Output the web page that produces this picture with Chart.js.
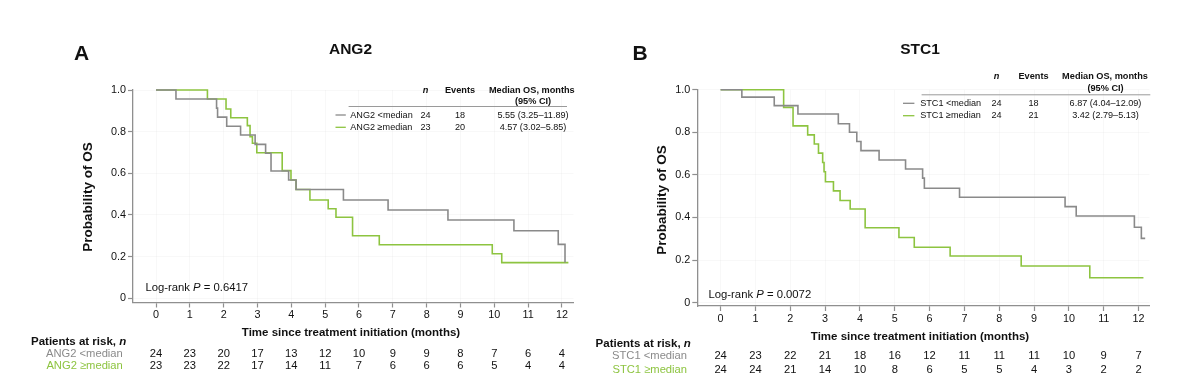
<!DOCTYPE html>
<html>
<head>
<meta charset="utf-8">
<script src="https://cdn.jsdelivr.net/npm/chart.js@4.4.1/dist/chart.umd.min.js"></script>
<style>
  html, body { margin: 0; padding: 0; background: #fff; }
  body { width: 1183px; height: 392px; position: relative; overflow: hidden; }
  canvas { position: absolute; top: 0; }
  #panelA { left: 0; }
  #panelB { left: 591px; }
</style>
</head>
<body>
<canvas id="panelA" width="591" height="392"></canvas>
<canvas id="panelB" width="592" height="392"></canvas>
<script>
// ---- data ----
const months = [0, 1, 2, 3, 4, 5, 6, 7, 8, 9, 10, 11, 12];
const survTicks = [0, 0.2, 0.4, 0.6, 0.8, 1.0];

const ang2LowTimes  = [0, 0.59, 1.79, 1.82, 2.09, 2.50, 2.93, 3.24, 3.40, 3.92, 4.14, 5.54, 6.86, 8.63, 10.58, 11.89, 12.09];
const ang2LowSurv   = [1, 0.957, 0.913, 0.870, 0.826, 0.784, 0.739, 0.696, 0.611, 0.568, 0.522, 0.472, 0.424, 0.376, 0.324, 0.259, 0.172];
const ang2HighTimes = [0, 1.52, 2.07, 2.21, 2.70, 2.78, 2.85, 2.98, 3.73, 3.99, 4.14, 4.55, 5.09, 5.32, 5.81, 6.60, 9.94, 10.22, 12.19];
const ang2HighSurv  = [1, 0.957, 0.909, 0.867, 0.829, 0.776, 0.744, 0.699, 0.613, 0.568, 0.522, 0.472, 0.430, 0.389, 0.300, 0.257, 0.214, 0.171, 0.171];

const stc1LowTimes  = [0, 0.61, 1.54, 2.22, 3.38, 3.70, 3.91, 4.03, 4.55, 5.31, 5.80, 5.85, 6.86, 9.89, 10.21, 11.88, 12.08, 12.19];
const stc1LowSurv   = [1, 0.965, 0.925, 0.886, 0.840, 0.800, 0.757, 0.714, 0.670, 0.628, 0.585, 0.537, 0.495, 0.451, 0.407, 0.354, 0.302, 0.302];
const stc1HighTimes = [0, 1.81, 2.08, 2.50, 2.69, 2.81, 2.93, 2.97, 3.01, 3.24, 3.43, 3.72, 4.15, 5.12, 5.56, 6.59, 8.63, 10.60, 12.14];
const stc1HighSurv  = [1, 0.917, 0.830, 0.788, 0.745, 0.702, 0.658, 0.615, 0.568, 0.525, 0.480, 0.440, 0.352, 0.306, 0.260, 0.219, 0.172, 0.117, 0.117];

const ang2AtRiskLow  = [24, 23, 20, 17, 13, 12, 10, 9, 9, 8, 7, 6, 4];
const ang2AtRiskHigh = [23, 23, 22, 17, 14, 11, 7, 6, 6, 6, 5, 4, 4];
const stc1AtRiskLow  = [24, 23, 22, 21, 18, 16, 12, 11, 11, 11, 10, 9, 7];
const stc1AtRiskHigh = [24, 24, 21, 14, 10, 8, 6, 5, 5, 4, 3, 2, 2];

const ang2Groups = ['ANG2 <median', 'ANG2 \u2265median'];
const stc1Groups = ['STC1 <median', 'STC1 \u2265median'];
const ang2N = ['24', '23'], ang2Events = ['18', '20'], ang2Median = ['5.55 (3.25\u201311.89)', '4.57 (3.02\u20135.85)'];
const stc1N = ['24', '24'], stc1Events = ['18', '21'], stc1Median = ['6.87 (4.04\u201312.09)', '3.42 (2.79\u20135.13)'];
const logRankP = ['0.6417', '0.0072'];

// ---- styling ----
const GRAY = '#8a8a8a';
const GREEN = '#8dc440';
const AXIS = '#8f8f8f';
const INK = '#111';
const FAMILY = '"Liberation Sans", Arial, Helvetica, sans-serif';
const Y_AXIS_W = 30;
const X_AXIS_H = 20;

Chart.defaults.font.family = FAMILY;
Chart.defaults.color = INK;

function font(size, weight = 'normal', style = 'normal') {
    return `${style} ${weight} ${size}px ${FAMILY}`;
}

function toPoints(times, surv) {
    return times.map((t, i) => ({ x: t, y: surv[i] }));
}

// draws runs of [text, weight, style] pieces one after another
function drawRuns(ctx, runs, x, y, size, align) {
    const widths = runs.map(([txt, w, s]) => { ctx.font = font(size, w, s); return ctx.measureText(txt).width; });
    const total = widths.reduce((a, b) => a + b, 0);
    let cx = align === 'right' ? x - total : align === 'center' ? x - total / 2 : x;
    ctx.textAlign = 'left';
    runs.forEach(([txt, w, s], i) => {
        ctx.font = font(size, w, s);
        ctx.fillText(txt, cx, y);
        cx += widths[i];
    });
}

const kmText = {
    id: 'kmText',
    afterDraw(chart, args, o) {
        const ctx = chart.ctx;
        const xs = chart.scales.x;
        ctx.save();
        ctx.fillStyle = INK;

        // panel letter and title
        ctx.textBaseline = 'alphabetic';
        ctx.textAlign = 'left';
        ctx.font = font(21, 'bold');
        ctx.fillText(o.letter, o.letterX, 60);
        ctx.textAlign = 'center';
        ctx.font = font(15.5, 'bold');
        ctx.fillText(o.title, o.titleX, 54);

        // legend table
        ctx.textBaseline = 'middle';
        drawRuns(ctx, [['n', 'bold', 'italic']], o.nX, o.headerY, 9.2, 'center');
        ctx.textAlign = 'center';
        ctx.font = font(9.2, 'bold');
        ctx.fillText('Events', o.evX, o.headerY);
        ctx.fillText('Median OS, months', o.medX, o.headerY);
        ctx.fillText('(95% CI)', o.ciX, o.ciY);
        ctx.strokeStyle = '#9a9a9a';
        ctx.lineWidth = 1;
        ctx.beginPath();
        ctx.moveTo(o.ruleX0, o.ruleY + 0.5);
        ctx.lineTo(o.ruleX1, o.ruleY + 0.5);
        ctx.stroke();

        o.groups.forEach((g, i) => {
            const y = o.rowY[i];
            ctx.strokeStyle = o.colors[i];
            ctx.lineWidth = 1.3;
            ctx.beginPath();
            ctx.moveTo(o.sampleX0, y);
            ctx.lineTo(o.sampleX1, y);
            ctx.stroke();
            ctx.fillStyle = INK;
            ctx.font = font(9.1);
            ctx.textAlign = 'left';
            ctx.fillText(g, o.labelX, y);
            ctx.textAlign = 'center';
            ctx.fillText(o.n[i], o.nX, y);
            ctx.fillText(o.events[i], o.evX, y);
            ctx.fillText(o.median[i], o.ciX, y);
        });

        // log-rank
        drawRuns(ctx, [['Log-rank ', 'normal'], ['P', 'normal', 'italic'], [' = ' + o.p, 'normal']],
            o.logRankX, o.logRankY, 11.3, 'left');

        // axis titles
        ctx.textAlign = 'center';
        ctx.font = font(11.5, 'bold');
        ctx.fillText('Time since treatment initiation (months)', o.xTitleX, o.xTitleY);
        ctx.save();
        ctx.translate(o.yTitleX, o.yTitleY);
        ctx.rotate(-Math.PI / 2);
        ctx.font = font(13.5, 'bold');
        ctx.fillText('Probability of OS', 0, 0);
        ctx.restore();

        // patients at risk
        drawRuns(ctx, [['Patients at risk, ', 'bold'], ['n', 'bold', 'italic']], o.parX, o.parY, 11.5, 'left');
        o.atRisk.forEach((row, i) => {
            const y = o.riskY[i];
            ctx.fillStyle = o.colors[i];
            ctx.font = font(11.2);
            ctx.textAlign = 'right';
            ctx.fillText(o.groups[i], o.rowLabelRight, y);
            ctx.fillStyle = INK;
            ctx.textAlign = 'center';
            row.forEach((v, j) => ctx.fillText(String(v), xs.getPixelForValue(months[j]), y));
        });
        ctx.restore();
    }
};

function makeChart(id, cfg) {
    const canvas = document.getElementById(id);
    const W = canvas.width, H = canvas.height;
    const line = (times, surv, color) => ({
        data: toPoints(times, surv),
        borderColor: color,
        backgroundColor: 'transparent',
        borderWidth: 1.6,
        pointRadius: 0,
        stepped: 'before',
        clip: 4
    });
    return new Chart(canvas.getContext('2d'), {
        type: 'line',
        data: {
            datasets: [
                line(cfg.lowTimes, cfg.lowSurv, GRAY),
                line(cfg.highTimes, cfg.highSurv, GREEN)
            ]
        },
        options: {
            responsive: false,
            animation: false,
            devicePixelRatio: 1,
            layout: {
                padding: {
                    left: cfg.area.left - Y_AXIS_W,
                    top: cfg.area.top,
                    right: W - cfg.area.right,
                    bottom: H - cfg.area.bottom - X_AXIS_H
                }
            },
            plugins: {
                legend: { display: false },
                tooltip: { enabled: false },
                kmText: cfg.text
            },
            scales: {
                x: {
                    type: 'linear',
                    min: cfg.xRange[0],
                    max: cfg.xRange[1],
                    afterBuildTicks: axis => { axis.ticks = months.map(v => ({ value: v })); },
                    afterFit: axis => { axis.height = X_AXIS_H; },
                    border: { color: AXIS, width: 1.3 },
                    grid: { color: 'rgba(0,0,0,0.028)', tickColor: AXIS, tickLength: 5, tickWidth: 1.2 },
                    ticks: { font: { size: 10.8 }, color: INK, padding: cfg.xTickPad, maxRotation: 0, callback: v => String(v) }
                },
                y: {
                    type: 'linear',
                    min: cfg.yMin,
                    max: 1.0,
                    afterBuildTicks: axis => { axis.ticks = survTicks.map(v => ({ value: v })); },
                    afterFit: axis => { axis.width = Y_AXIS_W; },
                    border: { color: AXIS, width: 1.3 },
                    grid: { color: 'rgba(0,0,0,0.028)', tickColor: AXIS, tickLength: 5, tickWidth: 1.2 },
                    ticks: { font: { size: 10.8 }, color: INK, padding: 2, callback: v => (v === 0 ? '0' : v.toFixed(1)) }
                }
            }
        },
        plugins: [kmText]
    });
}

makeChart('panelA', {
    lowTimes: ang2LowTimes, lowSurv: ang2LowSurv,
    highTimes: ang2HighTimes, highSurv: ang2HighSurv,
    area: { left: 133, right: 573.5, top: 90, bottom: 302.5 },
    xRange: [-0.680, 12.341],
    yMin: -0.0202,
    xTickPad: 1,
    text: {
        letter: 'A', letterX: 74, title: 'ANG2', titleX: 350.5,
        headerY: 90, ciY: 101, ruleY: 106, ruleX0: 348.6, ruleX1: 567,
        rowY: [115, 127.3], sampleX0: 335.5, sampleX1: 345.8, labelX: 350.3,
        nX: 425.6, evX: 460, medX: 531.8, ciX: 533,
        groups: ang2Groups, n: ang2N, events: ang2Events, median: ang2Median,
        colors: [GRAY, GREEN], p: logRankP[0],
        logRankX: 145.4, logRankY: 288.3,
        xTitleX: 351, xTitleY: 332.5, yTitleX: 88.5, yTitleY: 197,
        parX: 31, parY: 341.7, rowLabelRight: 122.8, riskY: [354, 366.2],
        atRisk: [ang2AtRiskLow, ang2AtRiskHigh]
    }
});

makeChart('panelB', {
    lowTimes: stc1LowTimes, lowSurv: stc1LowSurv,
    highTimes: stc1HighTimes, highSurv: stc1HighSurv,
    area: { left: 106.3, right: 558.5, top: 89.7, bottom: 306 },
    xRange: [-0.669, 12.314],
    yMin: -0.0155,
    xTickPad: 2,
    text: {
        letter: 'B', letterX: 41.6, title: 'STC1', titleX: 329,
        headerY: 76.7, ciY: 88.3, ruleY: 94.3, ruleX0: 330.6, ruleX1: 559.3,
        rowY: [103.3, 115.7], sampleX0: 312, sampleX1: 323.4, labelX: 329.2,
        nX: 405.6, evX: 442.5, medX: 514, ciX: 514.5,
        groups: stc1Groups, n: stc1N, events: stc1Events, median: stc1Median,
        colors: [GRAY, GREEN], p: logRankP[1],
        logRankX: 117.5, logRankY: 295,
        xTitleX: 329, xTitleY: 336.7, yTitleX: 71.3, yTitleY: 200,
        parX: 4.6, parY: 344.3, rowLabelRight: 96, riskY: [356.3, 370],
        atRisk: [stc1AtRiskLow, stc1AtRiskHigh]
    }
});
</script>
</body>
</html>
